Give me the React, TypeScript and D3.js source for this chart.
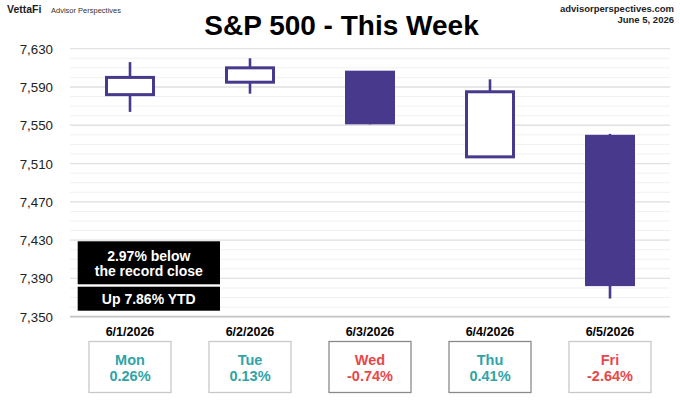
import React from "react";
import * as d3 from "d3";

const dates = ["6/1/2026", "6/2/2026", "6/3/2026", "6/4/2026", "6/5/2026"];
const dayNames = ["Mon", "Tue", "Wed", "Thu", "Fri"];
const openVals = [7582, 7595, 7606, 7517, 7539];
const closeVals = [7600, 7610, 7552, 7585, 7383];
const highVals = [7616, 7620, 7606, 7598, 7541];
const lowVals = [7564, 7583, 7551, 7516, 7369];
const dayChanges = ["0.26%", "0.13%", "-0.74%", "0.41%", "-2.64%"];
const yTicks = [7350, 7390, 7430, 7470, 7510, 7550, 7590, 7630];
const minorTicks = d3.range(7350, 7631, 10);
const noteLines = ["2.97% below", "the record close"];
const noteYtd = "Up 7.86% YTD";

const W = 680;
const H = 403;
const FONT = "'Liberation Sans', Arial, sans-serif";
const PURPLE = "#48398C";
const TEAL = "#2FA4A8";
const RED = "#E8474A";

export default function App() {
  const x = d3.scaleBand<string>().domain(dates).range([70, 670]).padding(0);
  const y = d3.scaleLinear().domain([7350, 7630]).range([316.7, 48.7]);
  const bw = x.bandwidth();
  const candleW = 50;
  const fmt = d3.format(",");

  return (
    <svg
      width={W}
      height={H}
      style={{ position: "absolute", left: 0, top: 0, background: "#fff" }}
      fontFamily={FONT}
    >
      <rect x={0} y={0} width={W} height={H} fill="#fff" />
      {/* header */}
      <text x={7} y={12.5} fontSize={10.5} fontWeight="bold" fill="#222">VettaFi</text>
      <text x={51} y={12.5} fontSize={7.5} fill="#333">Advisor Perspectives</text>
      <text x={674} y={12} fontSize={9.5} fontWeight="bold" fill="#222" textAnchor="end">advisorperspectives.com</text>
      <text x={674} y={23} fontSize={9.5} fontWeight="bold" fill="#222" textAnchor="end">June 5, 2026</text>
      <text x={341.5} y={35} fontSize={28} fontWeight="bold" fill="#000" textAnchor="middle">S&amp;P 500 - This Week</text>

      {/* minor grid */}
      {minorTicks.map((t) => (
        <line key={"m" + t} x1={70} x2={670} y1={y(t)} y2={y(t)} stroke="#f1f1f1" strokeWidth={1} />
      ))}
      {/* major grid */}
      {yTicks.map((t) => (
        <line key={"g" + t} x1={70} x2={670} y1={y(t)} y2={y(t)} stroke={t === 7350 ? "#c4c4c4" : "#e2e2e2"} strokeWidth={t === 7350 ? 1.8 : 1.3} />
      ))}
      {yTicks.map((t) => (
        <text key={"t" + t} x={53} y={y(t) + 5} fontSize={13.3} fill="#222" textAnchor="end">{fmt(t)}</text>
      ))}

      {/* candles */}
      {dates.map((d, i) => {
        const cx = (x(d) as number) + bw / 2;
        const o = openVals[i];
        const c = closeVals[i];
        const up = c >= o;
        const top = y(Math.max(o, c));
        const bot = y(Math.min(o, c));
        return (
          <g key={d}>
            <line x1={cx} x2={cx} y1={y(highVals[i])} y2={y(lowVals[i])} stroke={PURPLE} strokeWidth={2.6} />
            {up ? (
              <rect x={cx - candleW / 2 + 1.5} y={top} width={candleW - 3} height={bot - top} fill="#fff" stroke={PURPLE} strokeWidth={3} />
            ) : (
              <rect x={cx - candleW / 2} y={top - 1} width={candleW} height={bot - top + 2} fill={PURPLE} />
            )}
          </g>
        );
      })}

      {/* annotation */}
      <rect x={77.7} y={241.3} width={142.3} height={43} fill="#000" />
      <rect x={77.7} y={286.7} width={142.3} height={24} fill="#000" />
      {noteLines.map((s, i) => (
        <text key={s} x={148.8} y={260.7 + i * 15.5} fontSize={14} fontWeight="bold" fill="#fff" textAnchor="middle">{s}</text>
      ))}
      <text x={148.8} y={303.7} fontSize={14} fontWeight="bold" fill="#fff" textAnchor="middle">{noteYtd}</text>

      {/* day labels and boxes */}
      {dates.map((d, i) => {
        const cx = (x(d) as number) + bw / 2;
        const neg = dayChanges[i].startsWith("-");
        const col = neg ? RED : TEAL;
        const dark = i === 2 || i === 3;
        return (
          <g key={"b" + d}>
            <text x={cx} y={335.5} fontSize={12.5} fontWeight="bold" fill="#000" textAnchor="middle">{d}</text>
            <rect x={cx - 41} y={341.5} width={82} height={51} fill="#fff" stroke={dark ? "#8a8a8a" : "#c8c8c8"} strokeWidth={1.3} />
            <text x={cx} y={364.5} fontSize={14.5} fontWeight="bold" fill={col} textAnchor="middle">{dayNames[i]}</text>
            <text x={cx} y={381} fontSize={14.5} fontWeight="bold" fill={col} textAnchor="middle">{dayChanges[i]}</text>
          </g>
        );
      })}
    </svg>
  );
}
